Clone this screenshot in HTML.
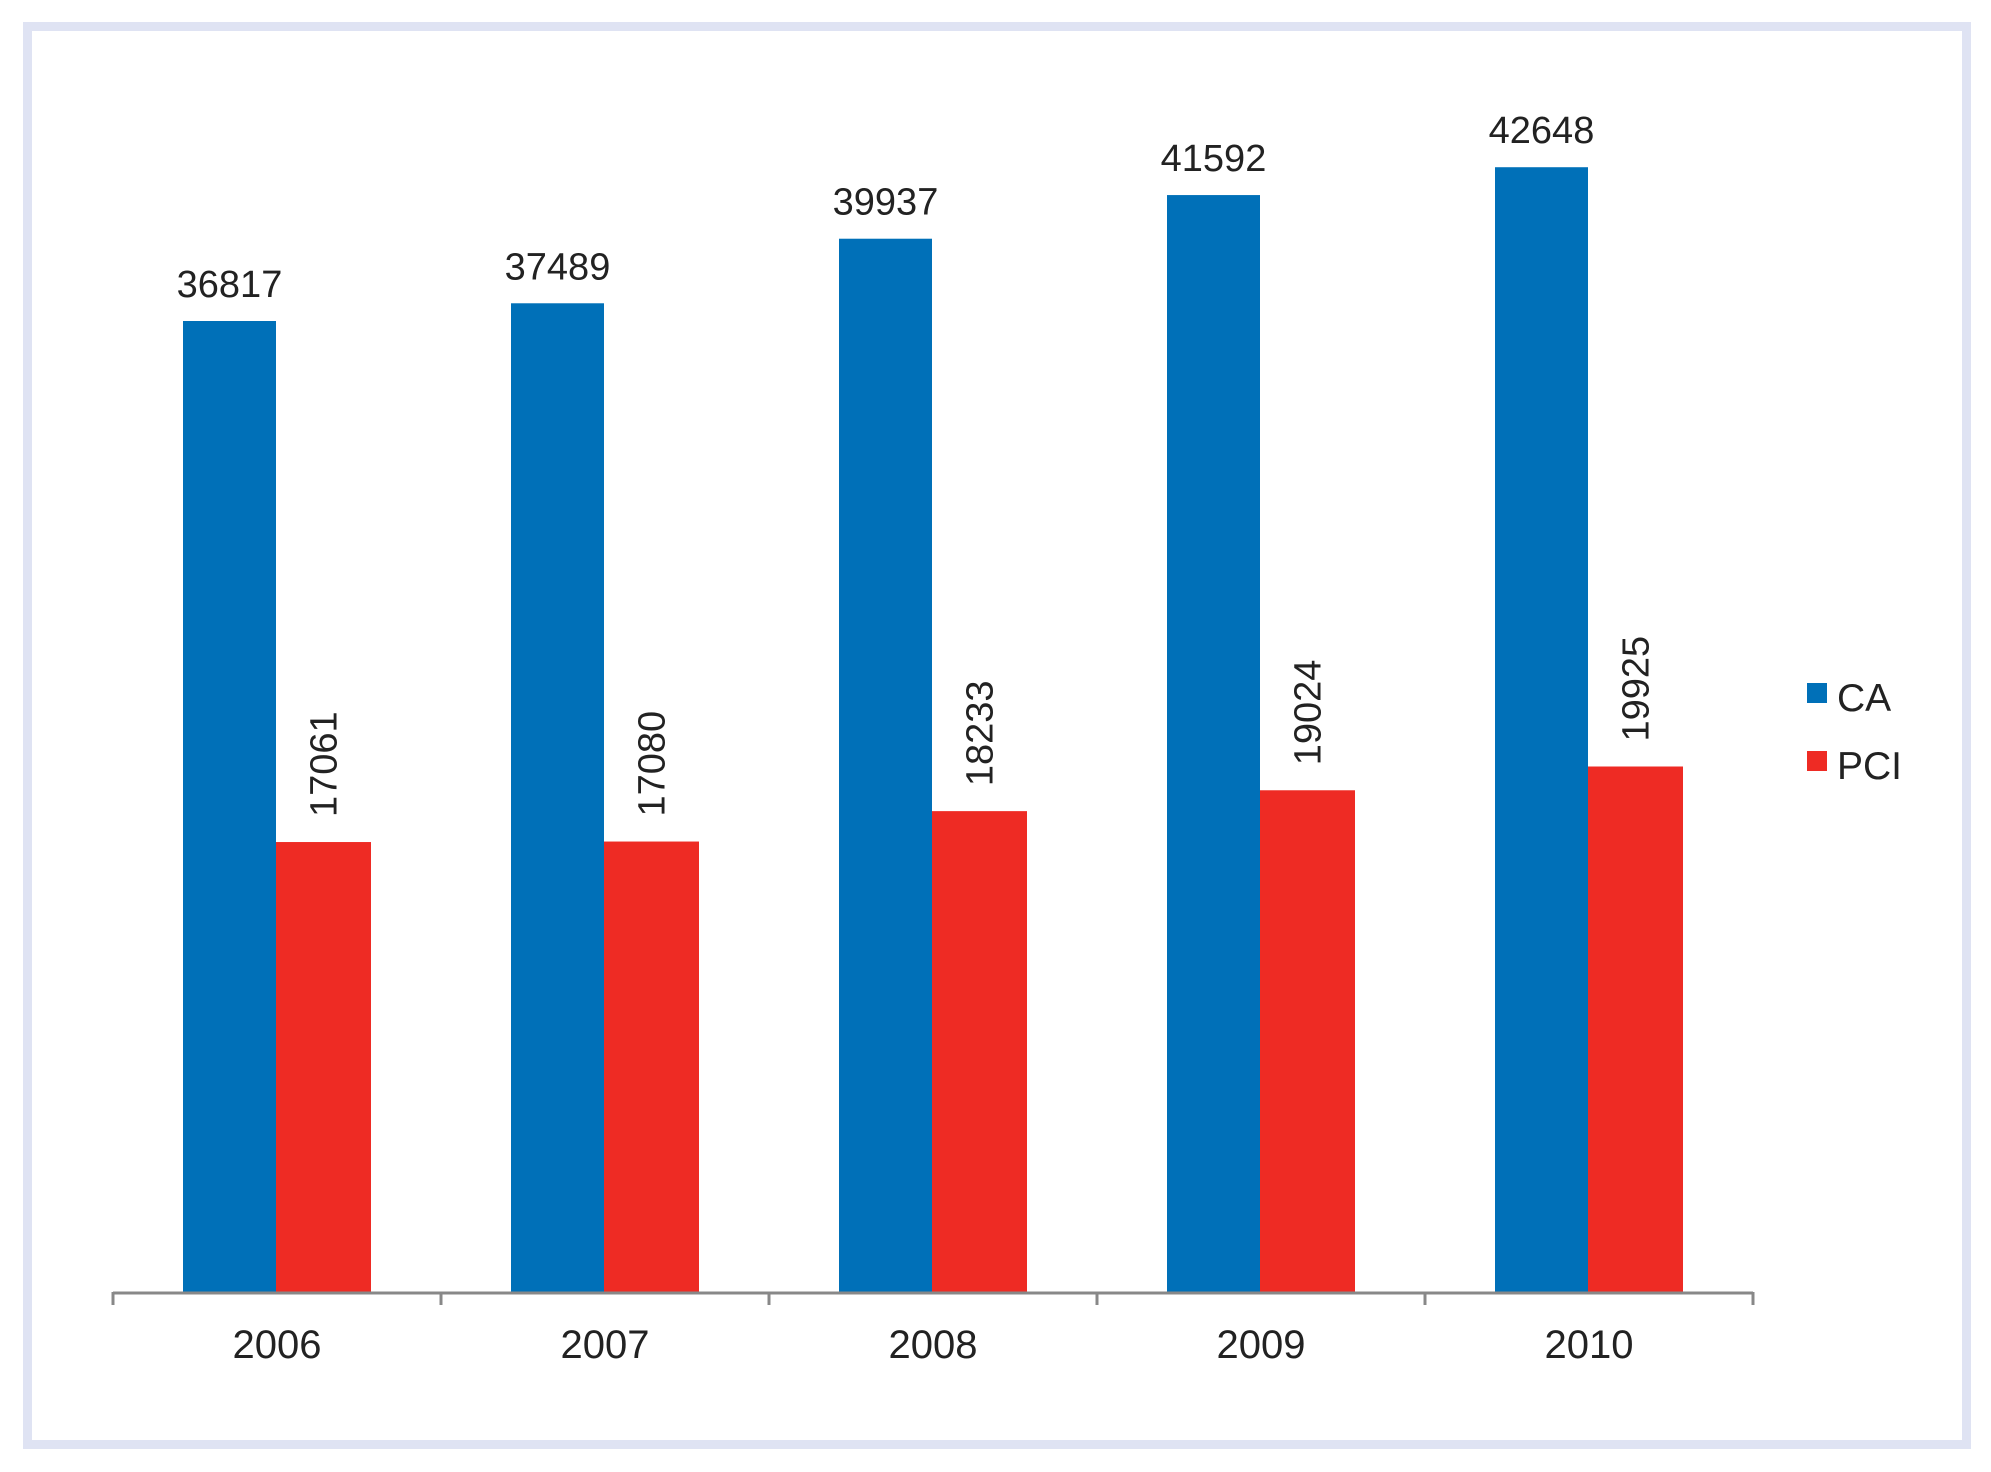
<!DOCTYPE html>
<html><head><meta charset="utf-8"><style>
html,body{margin:0;padding:0;background:#fff;}
svg{display:block;font-family:"Liberation Sans",Arial,sans-serif;}
</style></head><body>
<svg id="chart" width="1991" height="1472" viewBox="0 0 1991 1472">
<rect x="27.5" y="26.5" width="1939" height="1418" fill="#fff" stroke="#dfe3f3" stroke-width="9"/>
<g id="bars"></g>
<g id="axis"></g>
<g>
<rect x="1807" y="683" width="20" height="20" fill="#0070b8"/>
<text x="1837" y="711" font-size="39" fill="#222">CA</text>
<rect x="1807" y="751" width="20" height="20" fill="#ee2b24"/>
<text x="1837" y="779" font-size="39" fill="#222">PCI</text>
</g>
</svg>
<script>
const categories = ["2006","2007","2008","2009","2010"];
const caValues = [36817,37489,39937,41592,42648];
const pciValues = [17061,17080,18233,19024,19925];

const NS = "http://www.w3.org/2000/svg";
const x0 = 113, groupW = 328, baseY = 1292, kY = 971/36817;
const barW = 93, barOff = 70;
function xGroup(i){ return x0 + i*groupW; }
function yScale(v){ return baseY - v*kY; }
const bars = document.getElementById('bars');
const axis = document.getElementById('axis');
function mk(tag, attrs, parent){
  const e = document.createElementNS(NS, tag);
  for (const k in attrs) e.setAttribute(k, attrs[k]);
  parent.appendChild(e);
  return e;
}
categories.forEach((c,i)=>{
  const gx = xGroup(i);
  const bx = gx + barOff, rx = bx + barW;
  const by = yScale(caValues[i]), ry = yScale(pciValues[i]);
  const b = mk('rect',{x:bx,y:by,width:barW,height:baseY-by,fill:'#0070b8'},bars);
  
  
  const r = mk('rect',{x:rx,y:ry,width:barW+2,height:baseY-ry,fill:'#ee2b24'},bars);
  
  
  const bl = mk('text',{x:bx+barW/2,y:by-24,'font-size':38,'text-anchor':'middle',fill:'#222'},bars);
  bl.textContent = caValues[i];
  
  
  const cxr = rx+barW/2+14, cyr = ry-25;
  const rl = mk('text',{x:cxr,y:cyr,'font-size':38,'text-anchor':'start',fill:'#222',transform:'rotate(-90 '+cxr+' '+cyr+')'},bars);
  rl.textContent = pciValues[i];
  
  
  const t = mk('text',{x:gx+groupW/2,y:1358,'font-size':40,'text-anchor':'middle',fill:'#222'},axis);
  t.textContent = c;
  
  
});
const line = mk('line',{x1:x0,y1:baseY+1,x2:xGroup(categories.length),y2:baseY+1,stroke:'#888','stroke-width':3},axis);


for (let i=0;i<=categories.length;i++){
  const tk = mk('line',{x1:xGroup(i),y1:baseY,x2:xGroup(i),y2:baseY+13,stroke:'#888','stroke-width':3},axis);
  
  
}
</script>
</body></html>
